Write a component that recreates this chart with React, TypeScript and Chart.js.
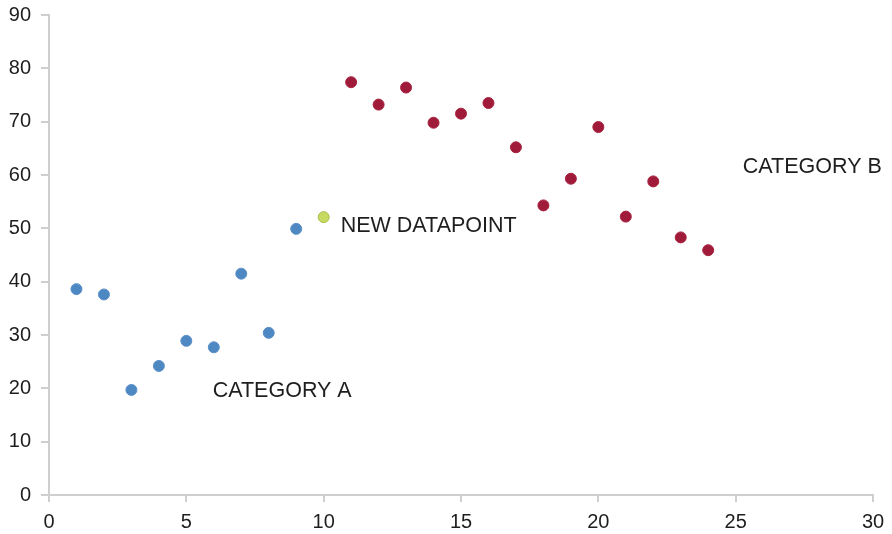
import React, { useEffect, useRef } from "react";
import { Chart, registerables } from "chart.js";

Chart.register(...registerables);

const catAX = [1, 2, 3, 4, 5, 6, 7, 8, 9];
const catAY = [38.6, 37.6, 19.7, 24.2, 28.9, 27.7, 41.5, 30.4, 49.9];
const newX = [10];
const newY = [52.1];
const catBX = [11, 12, 13, 14, 15, 16, 17, 18, 19, 20, 21, 22, 23, 24];
const catBY = [77.4, 73.2, 76.4, 69.8, 71.5, 73.5, 65.2, 54.3, 59.3, 69.0, 52.2, 58.8, 48.3, 45.9];

const xTicks = [0, 5, 10, 15, 20, 25, 30];
const yTicks = [0, 10, 20, 30, 40, 50, 60, 70, 80, 90];

const labelTexts = ["NEW DATAPOINT", "CATEGORY A", "CATEGORY B"];
const labelX = [10.62, 5.96, 25.26];
const labelY = [50.4, 19.5, 61.5];

const FONT = "'Liberation Sans', Arial, Helvetica, sans-serif";

const toPts = (xs: number[], ys: number[]) => xs.map((x, i) => ({ x, y: ys[i] }));

const annotationPlugin = {
  id: "textLabels",
  afterDatasetsDraw(chart: any) {
    const { ctx, scales } = chart;
    ctx.save();
    ctx.font = `21.5px ${FONT}`;
    ctx.fillStyle = "#1e1e1e";
    ctx.textAlign = "left";
    ctx.textBaseline = "middle";
    labelTexts.forEach((t, i) => {
      ctx.fillText(t, scales.x.getPixelForValue(labelX[i]), scales.y.getPixelForValue(labelY[i]));
    });
    ctx.restore();
  },
};

export default function App() {
  const ref = useRef<HTMLCanvasElement | null>(null);
  useEffect(() => {
    if (!ref.current) return;
    const axisColor = "#cfcfcf";
    const chart = new Chart(ref.current, {
      type: "scatter",
      data: {
        datasets: [
          {
            label: "Category A",
            data: toPts(catAX, catAY),
            backgroundColor: "#4e88c3",
            borderColor: "#5a90c8",
            borderWidth: 1,
            pointRadius: 5.5,
          },
          {
            label: "New",
            data: toPts(newX, newY),
            backgroundColor: "#c6da62",
            borderColor: "#a8c04a",
            borderWidth: 1,
            pointRadius: 5.5,
          },
          {
            label: "Category B",
            data: toPts(catBX, catBY),
            backgroundColor: "#a01a3a",
            borderColor: "#a8233f",
            borderWidth: 1,
            pointRadius: 5.5,
          },
        ],
      },
      options: {
        responsive: false,
        animation: false,
        layout: { padding: { top: 15, right: 19, left: 0, bottom: 0 } },
        plugins: { legend: { display: false }, tooltip: { enabled: false } },
        scales: {
          x: {
            type: "linear",
            min: 0,
            max: 30,
            afterBuildTicks: (s: any) => {
              s.ticks = xTicks.map((v) => ({ value: v }));
            },
            afterFit: (s: any) => {
              s.height = 39;
              s.paddingLeft = 0;
              s.paddingRight = 0;
            },
            ticks: { color: "#1e1e1e", font: { family: FONT, size: 20 }, padding: 8, maxRotation: 0 },
            grid: { drawOnChartArea: false, drawTicks: true, tickLength: 7, color: axisColor, lineWidth: 2 },
            border: { color: axisColor, width: 2 },
          },
          y: {
            type: "linear",
            min: 0,
            max: 90,
            afterBuildTicks: (s: any) => {
              s.ticks = yTicks.map((v) => ({ value: v }));
            },
            afterFit: (s: any) => {
              s.width = 49;
              s.paddingTop = 0;
              s.paddingBottom = 0;
            },
            ticks: { color: "#1e1e1e", font: { family: FONT, size: 20 }, padding: 10 },
            grid: { drawOnChartArea: false, drawTicks: true, tickLength: 8, color: axisColor, lineWidth: 2 },
            border: { color: axisColor, width: 2 },
          },
        },
      },
      plugins: [annotationPlugin],
    } as any);
    return () => chart.destroy();
  }, []);
  return (
    <div style={{ position: "absolute", left: 0, top: 0, width: 892, height: 534, background: "#fff" }}>
      <canvas ref={ref} width={892} height={534} />
    </div>
  );
}
